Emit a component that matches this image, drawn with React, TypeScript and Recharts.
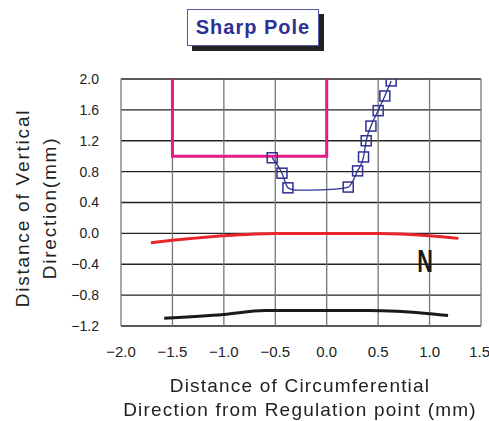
import { ComposedChart, Line, Scatter, XAxis, YAxis, CartesianGrid } from 'recharts'

const xTicks = [-2.0, -1.5, -1.0, -0.5, 0.0, 0.5, 1.0, 1.5]
const yTicks = [-1.2, -0.8, -0.4, 0.0, 0.4, 0.8, 1.2, 1.6, 2.0]

// pink regulation outline
const limitX = [-1.5, -1.5, 0.0, 0.0]
const limitY = [2.0, 1.0, 1.0, 2.0]

// blue profile (curve points) and its square markers
const profileX = [-0.53, -0.435, -0.377, -0.3, -0.15, 0.05, 0.209, 0.3, 0.358, 0.384, 0.43, 0.5, 0.565, 0.627]
const profileY = [0.98, 0.78, 0.59, 0.56, 0.56, 0.57, 0.6, 0.81, 0.99, 1.2, 1.39, 1.59, 1.78, 1.975]
const markerX = [-0.53, -0.435, -0.377, 0.209, 0.3, 0.358, 0.384, 0.43, 0.5, 0.565, 0.627]
const markerY = [0.98, 0.78, 0.59, 0.6, 0.81, 0.99, 1.2, 1.39, 1.59, 1.78, 1.975]

// red and black lines
const redX = [-1.71, -1.5, -1.0, -0.5, 0.0, 0.5, 1.0, 1.28]
const redY = [-0.12, -0.09, -0.03, 0.0, 0.0, 0.0, -0.03, -0.065]
const blackX = [-1.58, -1.0, -0.6, 0.0, 0.4, 1.0, 1.18]
const blackY = [-1.1, -1.05, -1.0, -1.0, -1.0, -1.04, -1.065]

const zip = (xs: number[], ys: number[]) => xs.map((x, i) => ({ x, y: ys[i] }))

const limitData = zip(limitX, limitY)
const profileData = zip(profileX, profileY)
const markerData = zip(markerX, markerY)
const redData = zip(redX, redY)
const blackData = zip(blackX, blackY)

const font = '"Liberation Sans", Arial, sans-serif'
const fmt = (v: number) => (v < 0 ? '\u2212' + Math.abs(v).toFixed(1) : v.toFixed(1))

const Square = (props: any) => {
  const { cx, cy } = props
  return <rect x={cx - 5} y={cy - 5} width={10} height={10} fill="none" stroke="#2E3192" strokeWidth={1.5} />
}

export default function App() {
  return (
    <div style={{ position: 'fixed', left: 0, top: 0, width: 489, height: 421, background: '#fff', fontFamily: font }}>
      <div
        style={{
          position: 'absolute',
          left: 187,
          top: 9,
          width: 130,
          height: 35,
          border: '1px solid #5558a8',
          boxShadow: '5px 5px 0 #222',
          background: '#fff',
          color: '#2E3192',
          fontWeight: 'bold',
          fontSize: 20,
          letterSpacing: 1,
          lineHeight: '35px',
          textAlign: 'center',
        }}
      >
        Sharp Pole
      </div>
      <ComposedChart width={489} height={421} margin={{ top: 79, right: 8, bottom: 65, left: 0 }}>
        <CartesianGrid horizontal={true} vertical={false} stroke="#222" strokeWidth={1.3} />
        <CartesianGrid horizontal={false} vertical={true} stroke="#777" strokeWidth={1.3} />
        <XAxis
          type="number"
          dataKey="x"
          domain={[-2, 1.5]}
          ticks={xTicks}
          tickFormatter={fmt}
          axisLine={false}
          tickLine={false}
          tickSize={0}
          tickMargin={20}
          height={30}
          tick={{ fill: '#222', fontSize: 15, fontFamily: font }}
          allowDataOverflow
        />
        <YAxis
          type="number"
          dataKey="y"
          domain={[-1.2, 2]}
          ticks={yTicks}
          tickFormatter={fmt}
          axisLine={false}
          tickLine={false}
          tickSize={0}
          tickMargin={22}
          width={121}
          tick={{ fill: '#222', fontSize: 14, fontFamily: font }}
          allowDataOverflow
        />
        <Line data={limitData} dataKey="y" type="linear" stroke="#E6198C" strokeWidth={3} dot={false} isAnimationActive={false} />
        <Line data={redData} dataKey="y" type="monotone" stroke="#E8262A" strokeWidth={3} dot={false} isAnimationActive={false} />
        <Line data={blackData} dataKey="y" type="monotone" stroke="#1a1a1a" strokeWidth={3} dot={false} isAnimationActive={false} />
        <Line data={profileData} dataKey="y" type="monotone" stroke="#2E3192" strokeWidth={1.3} dot={false} isAnimationActive={false} />
        <Scatter data={markerData} dataKey="y" shape={Square} isAnimationActive={false} />
      </ComposedChart>
      <div
        style={{
          position: 'absolute',
          left: 405,
          top: 245,
          width: 40,
          textAlign: 'center',
          fontWeight: 'bold',
          fontSize: 31,
          lineHeight: '34px',
          color: '#1a1a1a',
          transform: 'scaleX(0.7)',
        }}
      >
        N
      </div>
      <div
        style={{
          position: 'absolute',
          left: 36 - 130,
          top: 208 - 27,
          width: 260,
          height: 54,
          transform: 'rotate(-90deg)',
          textAlign: 'center',
          fontSize: 19,
          lineHeight: '27px',
          letterSpacing: 1.8,
          color: '#222',
        }}
      >
        Distance of Vertical
        <br />
        Direction(mm)
      </div>
      <div
        style={{
          position: 'absolute',
          left: 90,
          top: 374,
          width: 420,
          textAlign: 'center',
          fontSize: 19,
          lineHeight: '24px',
          letterSpacing: 1.2,
          color: '#222',
        }}
      >
        Distance of Circumferential
        <br />
        Direction from Regulation point (mm)
      </div>
    </div>
  )
}
